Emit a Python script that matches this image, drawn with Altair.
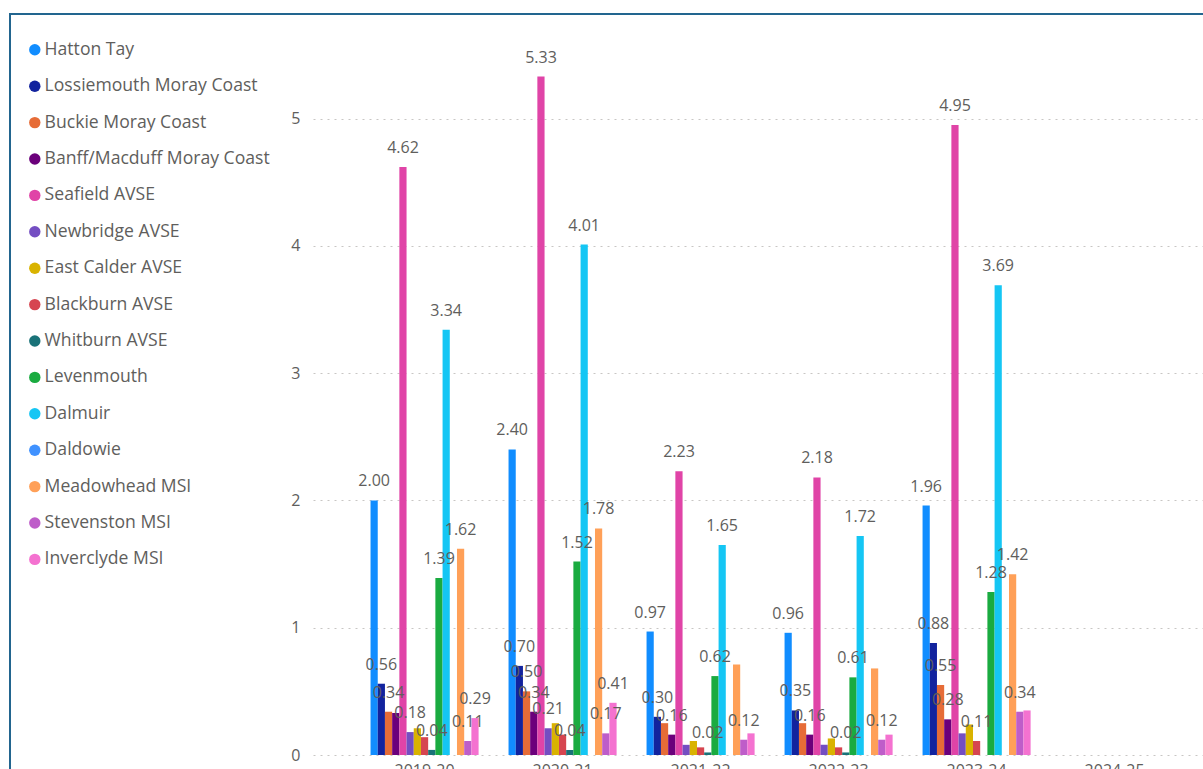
import altair as alt
import pandas as pd

years = ["2019-20", "2020-21", "2021-22", "2022-23", "2023-24", "2024-25"]

series = [
    "Hatton Tay", "Lossiemouth Moray Coast", "Buckie Moray Coast",
    "Banff/Macduff Moray Coast", "Seafield AVSE", "Newbridge AVSE",
    "East Calder AVSE", "Blackburn AVSE", "Whitburn AVSE", "Levenmouth",
    "Dalmuir", "Daldowie", "Meadowhead MSI", "Stevenston MSI", "Inverclyde MSI",
]

colors = [
    "#118DFF", "#12239E", "#E66C37", "#6B007B", "#E044A7", "#744EC2",
    "#D9B300", "#D64550", "#197278", "#1AAB40", "#15C6F4", "#4092FF",
    "#FFA058", "#BE5DC9", "#F472D0",
]

hatton_tay = [2.00, 2.40, 0.97, 0.96, 1.96, None]
lossiemouth = [0.56, 0.70, 0.30, 0.35, 0.88, None]
buckie = [0.34, 0.50, 0.25, 0.25, 0.55, None]
banff_macduff = [0.33, 0.34, 0.16, 0.16, 0.28, None]
seafield = [4.62, 5.33, 2.23, 2.18, 4.95, None]
newbridge = [0.18, 0.21, 0.08, 0.08, 0.17, None]
east_calder = [0.21, 0.25, 0.11, 0.13, 0.24, None]
blackburn = [0.14, 0.16, 0.06, 0.06, 0.11, None]
whitburn = [0.04, 0.04, 0.02, 0.02, None, None]
levenmouth = [1.39, 1.52, 0.62, 0.61, 1.28, None]
dalmuir = [3.34, 4.01, 1.65, 1.72, 3.69, None]
daldowie = [None, None, None, None, None, None]
meadowhead = [1.62, 1.78, 0.71, 0.68, 1.42, None]
stevenston = [0.11, 0.17, 0.12, 0.12, 0.34, None]
inverclyde = [0.29, 0.41, 0.17, 0.16, 0.35, None]

series_values = [
    hatton_tay, lossiemouth, buckie, banff_macduff, seafield, newbridge,
    east_calder, blackburn, whitburn, levenmouth, dalmuir, daldowie,
    meadowhead, stevenston, inverclyde,
]

# data labels that are visible in the reference (others hidden by overlap)
labelled = {
    "2019-20": ["Hatton Tay", "Lossiemouth Moray Coast", "Buckie Moray Coast",
                "Seafield AVSE", "Newbridge AVSE", "Whitburn AVSE", "Levenmouth",
                "Dalmuir", "Meadowhead MSI", "Stevenston MSI", "Inverclyde MSI"],
    "2020-21": ["Hatton Tay", "Lossiemouth Moray Coast", "Buckie Moray Coast",
                "Banff/Macduff Moray Coast", "Seafield AVSE", "Newbridge AVSE",
                "Whitburn AVSE", "Levenmouth", "Dalmuir", "Meadowhead MSI",
                "Stevenston MSI", "Inverclyde MSI"],
    "2021-22": ["Hatton Tay", "Lossiemouth Moray Coast", "Banff/Macduff Moray Coast",
                "Seafield AVSE", "Whitburn AVSE", "Levenmouth", "Dalmuir",
                "Stevenston MSI"],
    "2022-23": ["Hatton Tay", "Lossiemouth Moray Coast", "Banff/Macduff Moray Coast",
                "Seafield AVSE", "Whitburn AVSE", "Levenmouth", "Dalmuir",
                "Stevenston MSI"],
    "2023-24": ["Hatton Tay", "Lossiemouth Moray Coast", "Buckie Moray Coast",
                "Banff/Macduff Moray Coast", "Seafield AVSE", "Blackburn AVSE",
                "Levenmouth", "Dalmuir", "Meadowhead MSI", "Stevenston MSI"],
}

rows = []
for name, vals in zip(series, series_values):
    for yr, v in zip(years, vals):
        show = v is not None and name in labelled.get(yr, [])
        rows.append({
            "year": yr,
            "series": name,
            "value": v,
            "label": f"{v:.2f}" if show else "",
        })
df = pd.DataFrame(rows)

FONT = "Open Sans"
TXT = "#605E5C"

x_enc = alt.X(
    "year:N",
    scale=alt.Scale(domain=years, paddingInner=0.217, paddingOuter=0.333, align=0.626),
    axis=alt.Axis(title=None, labelAngle=0, ticks=False, domain=False, grid=False,
                  labelPadding=7, labelFontSize=16, labelColor=TXT, labelFont=FONT),
)
xo_enc = alt.XOffset("series:N", scale=alt.Scale(domain=series, paddingInner=0, paddingOuter=0))
y_enc = alt.Y(
    "value:Q",
    scale=alt.Scale(domain=[0, 5.774], nice=False, zero=True),
    axis=alt.Axis(values=[0, 1, 2, 3, 4, 5], title=None, ticks=False, domain=False,
                  labelPadding=13, grid=True, gridDash=[2, 5], gridColor="#C8C6C4",
                  gridWidth=1, labelFontSize=16, labelColor=TXT, labelFont=FONT),
)

bars = alt.Chart(df).mark_bar().encode(
    x=x_enc,
    xOffset=xo_enc,
    y=y_enc,
    color=alt.Color(
        "series:N",
        scale=alt.Scale(domain=series, range=colors),
        legend=alt.Legend(
            title=None, orient="none", legendX=-287, legendY=21,
            symbolType="circle", symbolSize=130, symbolStrokeWidth=0,
            labelFontSize=17.6, labelColor=TXT, labelFont=FONT, labelLimit=400,
            labelOffset=1, rowPadding=17.4, padding=0,
        ),
    ),
)

labels = alt.Chart(df).transform_filter("datum.label != ''").mark_text(
    baseline="bottom", dy=-11, fontSize=16, color=TXT, font=FONT
).encode(
    x=x_enc,
    xOffset=xo_enc,
    y=y_enc,
    text="label:N",
)

one = pd.DataFrame({"k": [0]})
frame_left = alt.Chart(one).mark_rule(color="#22658F", strokeWidth=2).encode(
    x=alt.value(-303), y=alt.value(-6), y2=alt.value(760)
)
frame_top = alt.Chart(one).mark_rule(color="#22658F", strokeWidth=2).encode(
    x=alt.value(-304), x2=alt.value(900), y=alt.value(-6)
)

chart = alt.layer(bars, labels, frame_left, frame_top).properties(
    width=890,
    height=735,
    padding={"left": 313, "top": 20, "right": 0, "bottom": 14},
    autosize=alt.AutoSizeParams(type="none"),
).configure(font=FONT).configure_view(stroke=None)

chart.save("out.html", embed_options={"renderer": "svg", "actions": False})
